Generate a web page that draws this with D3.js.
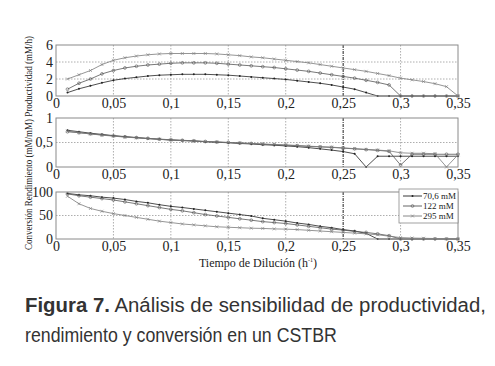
<!DOCTYPE html>
<html><head><meta charset="utf-8">
<script src="https://cdn.jsdelivr.net/npm/d3@7"></script>
<style>body{margin:0;background:#fff}svg{display:block}</style>
</head><body>
<svg id="c" width="495" height="366"></svg>
<script>
// ---- data ----
const dilution = [0.01,0.02,0.03,0.04,0.05,0.06,0.07,0.08,0.09,0.10,0.11,0.12,0.13,0.14,0.15,0.16,0.17,0.18,0.19,0.20,0.21,0.22,0.23,0.24,0.25,0.26,0.27,0.28,0.29,0.30,0.31,0.32,0.33,0.34,0.35];
const seriesNames = ["70,6 mM","122 mM","295 mM"];

const prod706 = [0.4,0.85,1.2,1.55,1.85,2.05,2.2,2.35,2.45,2.5,2.55,2.55,2.55,2.5,2.45,2.35,2.25,2.15,2.05,1.95,1.8,1.65,1.5,1.3,1.05,0.8,0.4,0,0,0,0,0,0,0,0];
const prod122 = [0.8,1.5,2.0,2.6,3.0,3.3,3.5,3.65,3.75,3.85,3.9,3.9,3.9,3.85,3.75,3.65,3.55,3.45,3.35,3.2,3.05,2.9,2.7,2.5,2.3,2.1,1.85,1.6,1.3,0,0,0,0,0,0];
const prod295 = [2.0,2.5,3.0,3.7,4.2,4.5,4.7,4.85,4.95,5.0,5.0,5.0,5.0,4.95,4.85,4.75,4.6,4.5,4.35,4.2,4.05,3.9,3.7,3.5,3.3,3.1,2.9,2.65,2.4,2.1,1.9,1.7,1.45,1.1,0];

const yield706 = [0.75,0.72,0.69,0.665,0.64,0.62,0.60,0.58,0.565,0.55,0.54,0.53,0.515,0.505,0.495,0.48,0.47,0.455,0.445,0.43,0.415,0.395,0.37,0.345,0.315,0.27,0.0,0.22,0.22,0.22,0.22,0.22,0.22,0.22,0.22];
const yield122 = [0.72,0.70,0.675,0.655,0.635,0.615,0.60,0.585,0.57,0.555,0.545,0.535,0.52,0.51,0.50,0.49,0.48,0.465,0.455,0.445,0.435,0.42,0.41,0.40,0.385,0.37,0.355,0.34,0.32,0.04,0.26,0.26,0.26,0.26,0.26];
const yield295 = [0.73,0.70,0.675,0.65,0.63,0.61,0.595,0.58,0.565,0.55,0.54,0.53,0.52,0.51,0.50,0.49,0.48,0.47,0.46,0.45,0.44,0.425,0.415,0.405,0.39,0.375,0.36,0.345,0.33,0.29,0.28,0.28,0.27,0.0,0.25];

const conv706 = [97,94,92,89,87,84,80,77,73,69.5,67,64,61,58,55,52,49,44,41,38,34,31,27,24,20,17,12,0,0,0,0,0,0,0,0];
const conv122 = [96,92,89,86,83,79,75,71,67,63,60,56,52,49,46,43,40,37,35,33,30,27,24,21,19,16,14,11,7,0,0,0,0,0,0];
const conv295 = [91,75,65,59,54,50,46,42,38,35,32,30,28,26,25,24,23,22.5,21.5,21,20,18.5,17,15.5,14,12.5,11,9,6,3,2,1.5,1,0.5,0];

const xTicks = [0,0.05,0.1,0.15,0.2,0.25,0.3,0.35];
const xTickLabels = ["0","0,05","0,1","0,15","0,2","0,25","0,3","0,35"];
const prodTicks = [0,2,4,6], prodTickLabels = ["0","2","4","6"];
const yieldTicks = [0,0.5,1], yieldTickLabels = ["0","0,5","1"];
const convTicks = [0,50,100], convTickLabels = ["0","50","100"];

// ---- drawing ----
const svg = d3.select("#c");
const serif = "'Liberation Serif','Times New Roman',serif";
const sans = "'Liberation Sans',Arial,sans-serif";
const x = d3.scaleLinear().domain([0,0.35]).range([56,458]);

const colors = ["#222","#555","#7a7a7a"];
const panels = [
  {top:45, bottom:96, domain:[0,6], ticks:prodTicks, labels:prodTickLabels, data:[prod706,prod122,prod295]},
  {top:118, bottom:167, domain:[0,1], ticks:yieldTicks, labels:yieldTickLabels, data:[yield706,yield122,yield295]},
  {top:192, bottom:239, domain:[0,100], ticks:convTicks, labels:convTickLabels, data:[conv706,conv122,conv295]}
];

function marker(g, k, cx, cy){
  if(k===0){
    g.append("circle").attr("cx",cx).attr("cy",cy).attr("r",1.0).attr("fill",colors[0]);
  } else if(k===1){
    g.append("circle").attr("cx",cx).attr("cy",cy).attr("r",1.4).attr("fill","none").attr("stroke",colors[1]).attr("stroke-width",0.6);
  } else {
    const s=1.5;
    g.append("path").attr("d",`M${cx-s},${cy-s}L${cx+s},${cy+s}M${cx-s},${cy+s}L${cx+s},${cy-s}`)
      .attr("stroke",colors[2]).attr("stroke-width",0.6).attr("fill","none");
  }
}

panels.forEach((p,pi)=>{
  const y = d3.scaleLinear().domain(p.domain).range([p.bottom,p.top]);
  const g = svg.append("g");
  // grid
  xTicks.slice(1,-1).forEach(t=>{
    const dark = Math.abs(t-0.25)<1e-9;
    g.append("line").attr("x1",x(t)).attr("x2",x(t)).attr("y1",p.top).attr("y2",p.bottom)
      .attr("stroke",dark?"#222":"#999").attr("stroke-width",dark?1:0.8)
      .attr("stroke-dasharray",dark?"3,1,1,1":"1.5,1.5");
  });
  p.ticks.slice(1,-1).forEach(t=>{
    g.append("line").attr("x1",x(0)).attr("x2",x(0.35)).attr("y1",y(t)).attr("y2",y(t))
      .attr("stroke","#999").attr("stroke-width",0.8).attr("stroke-dasharray","1.5,1.5");
  });
  // series
  const line = d3.line().x((d,i)=>x(dilution[i])).y(d=>y(d));
  p.data.forEach((arr,k)=>{
    g.append("path").datum(arr).attr("d",line).attr("fill","none")
      .attr("stroke",colors[k]).attr("stroke-width",0.8);
    arr.forEach((v,i)=>marker(g,k,x(dilution[i]),y(v)));
  });
  // frame
  g.append("rect").attr("x",x(0)).attr("y",p.top).attr("width",x(0.35)-x(0)).attr("height",p.bottom-p.top)
    .attr("fill","none").attr("stroke","#8a8a8a").attr("stroke-width",1);
  // axes labels
  const xa = d3.axisBottom(x).tickValues(xTicks).tickFormat((d,i)=>xTickLabels[i]).tickSize(0).tickPadding(2);
  const ax = svg.append("g").attr("transform",`translate(0,${p.bottom})`).call(xa);
  ax.select(".domain").remove();
  ax.selectAll("text").attr("font-family",serif).attr("font-size",14).attr("fill","#222");
  const ya = d3.axisLeft(y).tickValues(p.ticks).tickFormat((d,i)=>p.labels[i]).tickSize(0).tickPadding(3);
  const ay = svg.append("g").attr("transform",`translate(${x(0)},0)`).call(ya);
  ay.select(".domain").remove();
  ay.selectAll("text").attr("font-family",serif).attr("font-size",14).attr("fill","#222");
});

// legend
const lg = svg.append("g");
lg.append("rect").attr("x",399).attr("y",189).attr("width",59).attr("height",34)
  .attr("fill","#fff").attr("stroke","#8a8a8a").attr("stroke-width",0.8);
seriesNames.forEach((n,k)=>{
  const yy = 196 + k*10;
  lg.append("line").attr("x1",403).attr("x2",422).attr("y1",yy).attr("y2",yy).attr("stroke",colors[k]).attr("stroke-width",0.9);
  marker(lg,k,412.5,yy);
  lg.append("text").attr("x",423).attr("y",yy).attr("dy","0.35em").attr("font-family",serif)
    .attr("font-size",9).attr("fill","#222").text(n);
});

// axis titles
const xt = svg.append("text").attr("x",258).attr("y",267).attr("text-anchor","middle")
  .attr("font-family",serif).attr("font-size",12).attr("fill","#222");
xt.append("tspan").text("Tiempo de Dilución (h");
xt.append("tspan").attr("font-size",6).attr("dy",-5).text("-1");
xt.append("tspan").attr("dy",5).text(")");

svg.append("text").attr("transform","translate(32,143) rotate(-90)").attr("text-anchor","middle")
  .attr("font-family",serif).attr("font-size",9.5).attr("fill","#222")
  .attr("textLength",214).attr("lengthAdjust","spacingAndGlyphs")
  .text("Conversión Rendimiento (mM/mM) Productividad (mM/h)");

// caption (horizontally condensed via transform)
function captionLine(y, width, build){
  const g = svg.append("g");
  const t = g.append("text").attr("x",0).attr("y",0)
    .attr("font-family",sans).attr("font-size",21).attr("fill","#333");
  build(t);
  const len = t.node().getComputedTextLength();
  g.attr("transform",`translate(25,${y}) scale(${width/len},1)`);
}
captionLine(312, 461, t=>{
  t.append("tspan").attr("font-weight","bold").text("Figura 7.");
  t.append("tspan").text(" Análisis de sensibilidad de productividad,");
});
captionLine(342, 312, t=>t.text("rendimiento y conversión en un CSTBR"));
</script>
</body></html>
